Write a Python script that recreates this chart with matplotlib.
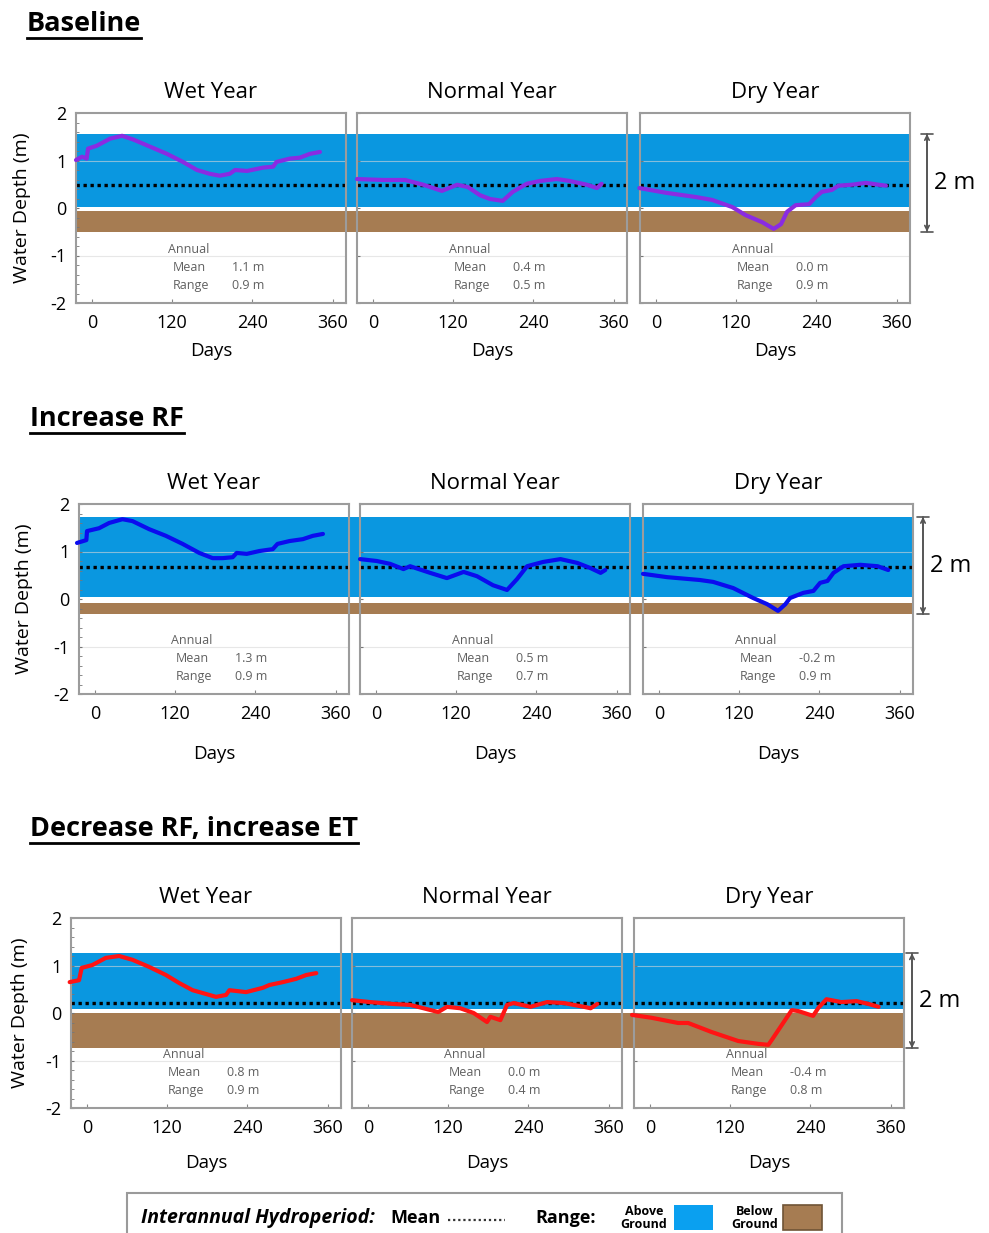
import matplotlib
matplotlib.use("Agg")
import matplotlib.pyplot as plt
from matplotlib.lines import Line2D
from matplotlib.patches import Rectangle

plt.rcParams['font.family'] = ['Open Sans', 'DejaVu Sans']

W, H = 989, 1233

scenarios = ['Baseline', 'Increase RF', 'Decrease RF, increase ET']
years = ['Wet Year', 'Normal Year', 'Dry Year']
line_colors = ['#8a2be2', '#0b0bef', '#ff1414']

# interannual hydroperiod (m) per scenario
above_top = [1.56, 1.73, 1.26]
above_bottom = [0.03, 0.04, 0.08]
below_top = [-0.06, -0.08, -0.01]
below_bottom = [-0.50, -0.32, -0.74]
mean_depth = [0.49, 0.67, 0.21]

annual_mean = [['1.1 m', '0.4 m', '0.0 m'],
               ['1.3 m', '0.5 m', '-0.2 m'],
               ['0.8 m', '0.0 m', '-0.4 m']]
annual_range = [['0.9 m', '0.5 m', '0.9 m'],
                ['0.9 m', '0.7 m', '0.9 m'],
                ['0.9 m', '0.4 m', '0.8 m']]

# water depth curves (day, m)
base_wet_day = [-24, -15, -8, -6, 7, 27, 45, 62, 87, 112, 136, 157, 176, 191, 206, 214, 232, 256, 271, 276, 296, 311, 326, 341]
base_wet_m = [1.01, 1.08, 1.04, 1.25, 1.31, 1.46, 1.52, 1.44, 1.29, 1.14, 0.97, 0.80, 0.72, 0.68, 0.72, 0.80, 0.78, 0.85, 0.87, 0.97, 1.04, 1.06, 1.14, 1.18]
base_norm_day = [-24, 15, 48, 75, 103, 126, 142, 160, 175, 194, 209, 230, 250, 275, 294, 320, 335, 342]
base_norm_m = [0.61, 0.59, 0.59, 0.49, 0.36, 0.49, 0.44, 0.27, 0.19, 0.15, 0.34, 0.51, 0.57, 0.61, 0.57, 0.49, 0.42, 0.51]
base_dry_day = [-25, 15, 60, 84, 114, 134, 159, 176, 187, 196, 209, 229, 239, 248, 263, 273, 293, 314, 333, 344]
base_dry_m = [0.42, 0.32, 0.23, 0.17, 0.02, -0.15, -0.30, -0.44, -0.34, -0.08, 0.06, 0.08, 0.23, 0.34, 0.38, 0.47, 0.49, 0.53, 0.49, 0.47]

incr_wet_day = [-27, -13, -12, 6, 21, 41, 56, 81, 106, 131, 156, 176, 191, 206, 212, 227, 246, 266, 273, 291, 311, 326, 341]
incr_wet_m = [1.18, 1.24, 1.43, 1.49, 1.60, 1.68, 1.64, 1.47, 1.33, 1.16, 0.97, 0.86, 0.86, 0.88, 0.97, 0.95, 1.01, 1.05, 1.16, 1.22, 1.26, 1.33, 1.37]
incr_norm_day = [-24, 1, 21, 41, 51, 81, 106, 131, 151, 175, 196, 211, 226, 250, 276, 301, 321, 336, 343]
incr_norm_m = [0.84, 0.80, 0.74, 0.63, 0.69, 0.55, 0.44, 0.57, 0.48, 0.29, 0.19, 0.42, 0.69, 0.78, 0.84, 0.76, 0.65, 0.55, 0.61]
incr_dry_day = [-24, 12, 61, 81, 111, 141, 162, 178, 189, 196, 216, 231, 241, 252, 261, 276, 301, 327, 343]
incr_dry_m = [0.53, 0.46, 0.40, 0.36, 0.23, 0.02, -0.11, -0.25, -0.11, 0.02, 0.13, 0.17, 0.34, 0.38, 0.55, 0.69, 0.72, 0.69, 0.61]

decr_wet_day = [-26, -12, -8, 8, 28, 48, 68, 93, 118, 138, 158, 178, 193, 208, 213, 238, 263, 273, 293, 313, 328, 343]
decr_wet_m = [0.65, 0.69, 0.95, 1.01, 1.16, 1.20, 1.12, 0.97, 0.80, 0.63, 0.48, 0.40, 0.34, 0.38, 0.48, 0.44, 0.53, 0.59, 0.65, 0.72, 0.80, 0.84]
decr_norm_day = [-24, 3, 38, 63, 83, 105, 118, 138, 158, 178, 183, 198, 208, 218, 243, 268, 293, 323, 333, 343]
decr_norm_m = [0.27, 0.23, 0.19, 0.17, 0.10, 0.02, 0.13, 0.10, 0.00, -0.19, -0.08, -0.15, 0.17, 0.21, 0.13, 0.23, 0.21, 0.13, 0.10, 0.19]
decr_dry_day = [-27, 2, 42, 57, 92, 132, 162, 177, 182, 192, 212, 222, 244, 252, 264, 286, 309, 327, 342]
decr_dry_m = [-0.04, -0.10, -0.21, -0.21, -0.40, -0.59, -0.65, -0.67, -0.57, -0.36, 0.06, 0.04, -0.06, 0.11, 0.29, 0.23, 0.25, 0.19, 0.13]

curves = [
    [(base_wet_day, base_wet_m), (base_norm_day, base_norm_m), (base_dry_day, base_dry_m)],
    [(incr_wet_day, incr_wet_m), (incr_norm_day, incr_norm_m), (incr_dry_day, incr_dry_m)],
    [(decr_wet_day, decr_wet_m), (decr_norm_day, decr_norm_m), (decr_dry_day, decr_dry_m)],
]

BLUE = '#0a97e0'
BROWN = '#a67c52'
FRAME = '#9c9c9c'
STAT = '#606060'

# layout in pixels
row_lefts = [[76, 357, 640], [79, 360, 643], [71, 352, 634]]
row_tops = [113, 504, 918]
panel_w, panel_h = 270, 190
days_pad = [7, 15.5, 12.5]
head_xy = [(27, 24), (30, 419), (30, 829)]
ylab_x = [22, 24, 20]
dim_gap = [17, 10, 8]


def fig_rect(left, top, width, height):
    return [left / W, 1 - (top + height) / H, width / W, height / H]


fig = plt.figure(figsize=(W / 100, H / 100), dpi=100)

headers = []
for r in range(3):
    lefts = row_lefts[r]
    top = row_tops[r]

    # bands spanning the whole row
    bg = fig.add_axes(fig_rect(lefts[0], top, lefts[2] + panel_w - lefts[0], panel_h), zorder=0)
    bg.set_xlim(0, 1)
    bg.set_ylim(-2, 2)
    bg.axis('off')
    bg.axhspan(above_bottom[r], above_top[r], color=BLUE, lw=0)
    bg.axhspan(below_bottom[r], below_top[r], color=BROWN, lw=0)

    for c in range(3):
        ax = fig.add_axes(fig_rect(lefts[c], top, panel_w, panel_h), zorder=1)
        ax.set_facecolor('none')
        ax.set_xlim(-24, 380)
        ax.set_ylim(-2, 2)
        for s in ax.spines.values():
            s.set_color(FRAME)
            s.set_linewidth(1.5)
        for yv in (1, -1):
            ax.axhline(yv, color='#d8d8d8', lw=0.8, alpha=0.6, zorder=0.5)
        ax.axhline(mean_depth[r], color='black', ls=(0, (1, 1.1)), lw=2.4, zorder=2)
        ax.set_xticks([0, 120, 240, 360])
        ax.set_xticklabels(['0', '120', '240', '360'])
        ax.tick_params(axis='x', direction='in', length=3, color='#888888', labelsize=13, pad=8)
        ax.set_yticks([-2, -1, 0, 1, 2])
        ax.set_yticks([-1.8, -1.6, -1.4, -1.2, -0.8, -0.6, -0.4, -0.2, 0.2, 0.4, 0.6, 0.8, 1.2, 1.4, 1.6, 1.8], minor=True)
        ax.tick_params(axis='y', which='both', direction='in', length=2, color='#777777')
        if c == 0:
            ax.set_yticklabels(['-2', '-1', '0', '1', '2'])
            ax.tick_params(axis='y', labelsize=13, pad=7)
        else:
            ax.set_yticklabels([])
            ax.tick_params(axis='y', which='minor', length=0)
        ax.set_xlabel('Days', fontsize=13.5, labelpad=days_pad[r])
        ax.set_title(years[c], fontsize=16, pad=11)

        d, m = curves[r][c]
        ax.plot(d, m, color=line_colors[r], lw=3, solid_capstyle='round',
                solid_joinstyle='round', zorder=3, clip_on=False)

        ax.text(145, -0.88, 'Annual', ha='center', va='center', fontsize=9, color=STAT)
        ax.text(121, -1.26, 'Mean', ha='left', va='center', fontsize=9, color=STAT)
        ax.text(209, -1.26, annual_mean[r][c], ha='left', va='center', fontsize=9, color=STAT)
        ax.text(121, -1.64, 'Range', ha='left', va='center', fontsize=9, color=STAT)
        ax.text(209, -1.64, annual_range[r][c], ha='left', va='center', fontsize=9, color=STAT)

        if c == 2:
            xa = 1 + dim_gap[r] / panel_w
            tr = ax.get_yaxis_transform()
            ax.annotate('', xy=(xa, above_top[r]), xytext=(xa, below_bottom[r]),
                        xycoords=tr, textcoords=tr,
                        arrowprops=dict(arrowstyle='<->', color='#555555', lw=1.2,
                                        shrinkA=0, shrinkB=0, mutation_scale=8))
            ax.annotate('', xy=(xa, above_top[r]), xytext=(xa, below_bottom[r]),
                        xycoords=tr, textcoords=tr,
                        arrowprops=dict(arrowstyle='|-|', color='#555555', lw=1.2,
                                        shrinkA=0, shrinkB=0, mutation_scale=4))
            ax.text(xa + 7 / panel_w, (above_top[r] + below_bottom[r]) / 2, '2 m',
                    transform=tr, ha='left', va='center', fontsize=17)

    fig.text(ylab_x[r] / W, 1 - (top + panel_h / 2) / H, 'Water Depth (m)',
             rotation=90, ha='center', va='center', fontsize=14)
    hx, hy = head_xy[r]
    headers.append(fig.text(hx / W, 1 - hy / H, scenarios[r], fontsize=19.5,
                            fontweight='bold', ha='left', va='center'))

# legend box at the bottom
fig.patches.append(Rectangle((127 / W, 1 - 1245 / H), (842 - 127) / W, (1245 - 1193) / H,
                             transform=fig.transFigure, facecolor='white',
                             edgecolor='#9a9a9a', lw=1.5, zorder=0))
ly = 1 - 1218 / H
fig.text(141 / W, ly, 'Interannual Hydroperiod:', fontsize=14, fontweight='bold',
         style='italic', va='center')
fig.text(390 / W, ly, 'Mean', fontsize=13, fontweight='bold', va='center')
fig.lines.append(Line2D([448 / W, 505 / W], [ly - 2 / H, ly - 2 / H], transform=fig.transFigure,
                        color='#333333', lw=1.6, ls=(0, (1, 1.3))))
fig.text(535 / W, ly, 'Range:', fontsize=13, fontweight='bold', va='center')
fig.text(644 / W, ly, 'Above\nGround', fontsize=9, fontweight='bold', ha='center',
         va='center', linespacing=1.0)
fig.patches.append(Rectangle((674 / W, 1 - 1230 / H), 39 / W, 25 / H,
                             transform=fig.transFigure, facecolor='#0aa0f0', lw=0))
fig.text(755 / W, ly, 'Below\nGround', fontsize=9, fontweight='bold', ha='center',
         va='center', linespacing=1.0)
fig.patches.append(Rectangle((783 / W, 1 - 1230 / H), 39 / W, 25 / H,
                             transform=fig.transFigure, facecolor=BROWN,
                             edgecolor='#6f5436', lw=1.2))

# underline the scenario headers
fig.canvas.draw()
rend = fig.canvas.get_renderer()
for t in headers:
    bb = t.get_window_extent(rend)
    yline = bb.y0 - 1
    fig.lines.append(Line2D([bb.x0 / W, bb.x1 / W], [yline / H, yline / H],
                            transform=fig.transFigure, color='black', lw=2))

fig.savefig('out.png', dpi=100)
